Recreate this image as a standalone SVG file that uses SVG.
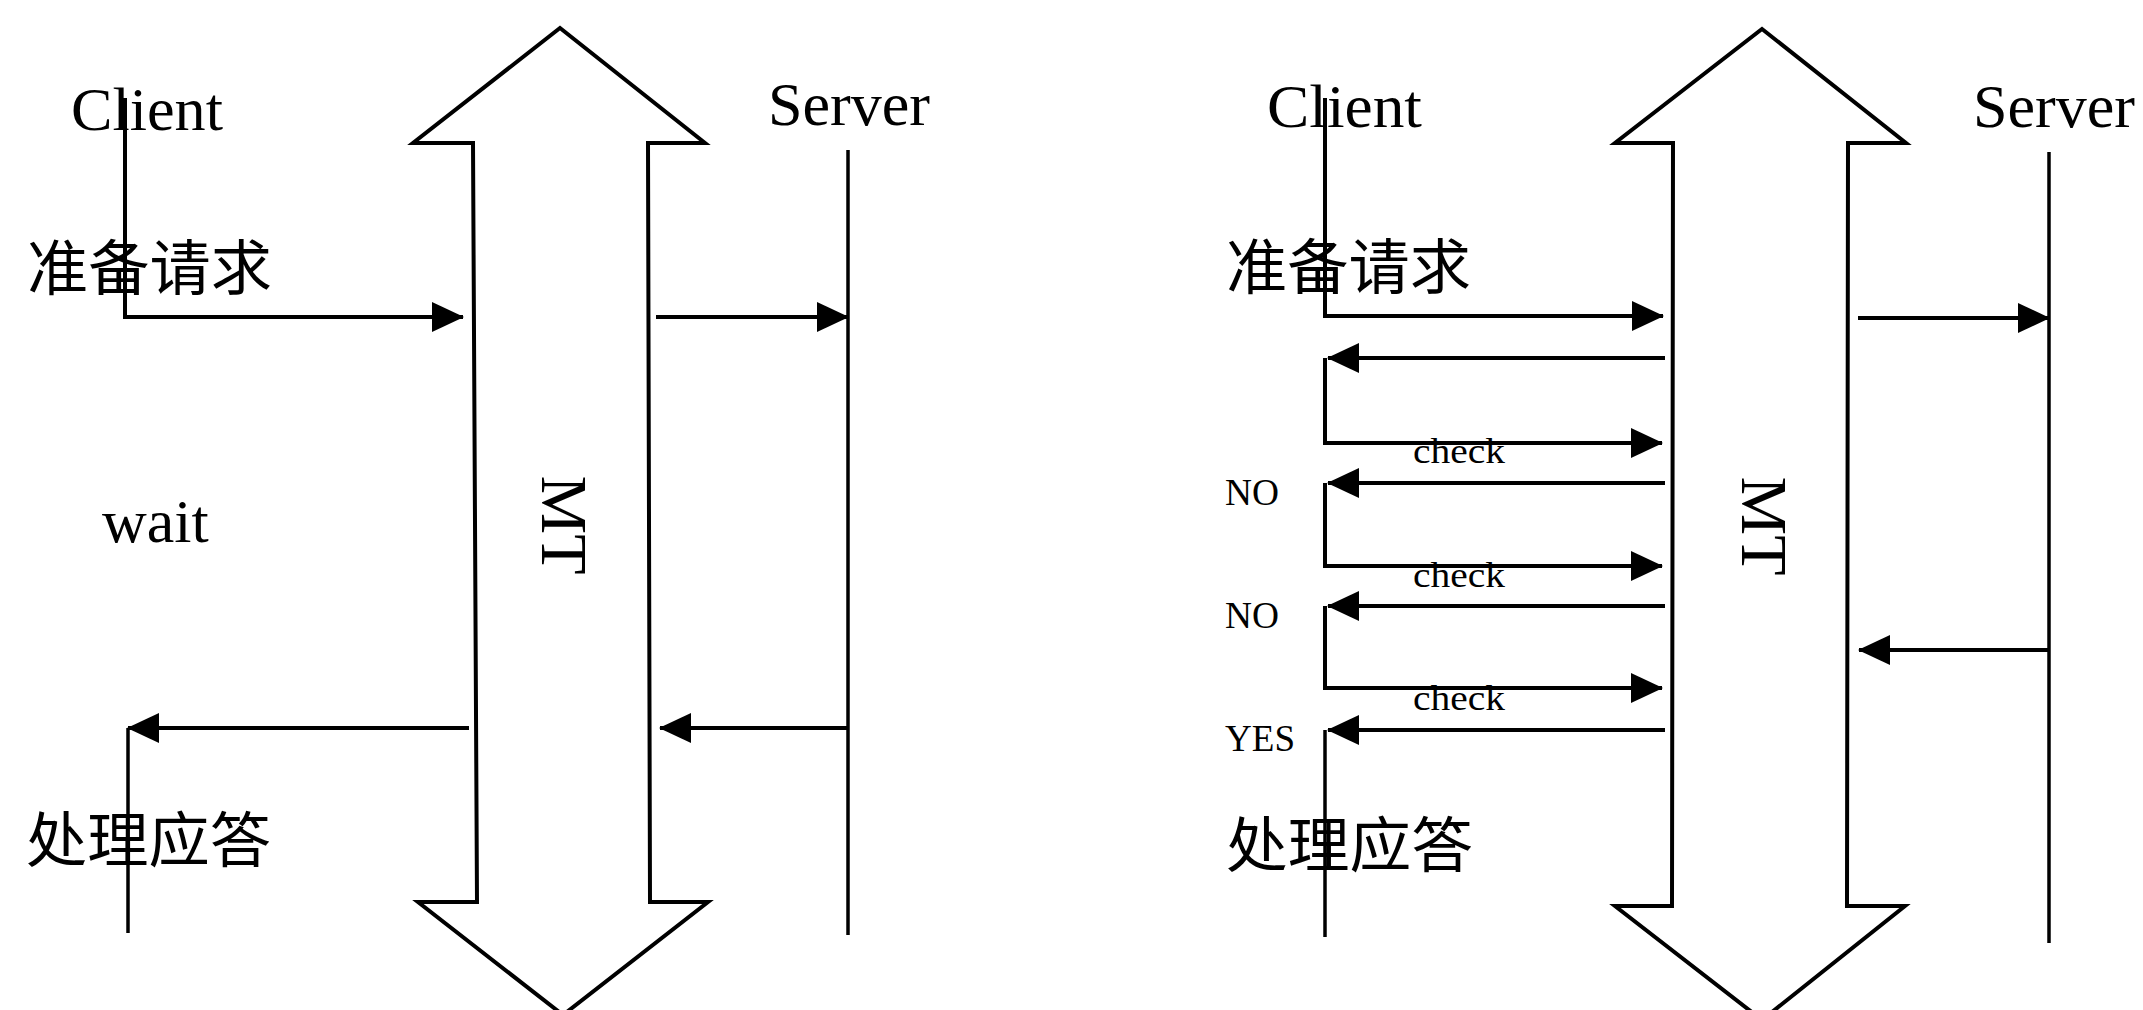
<svg xmlns="http://www.w3.org/2000/svg" width="2143" height="1010" viewBox="0 0 2143 1010">
<style>
.bg{fill:#fff}
.lat{font-family:"Liberation Serif","Times New Roman",serif;fill:#000}
.big{font-size:62px}
.sm{font-size:38px}
.chk{font-size:36px}
.cjk{font-family:"Noto Sans CJK SC","Noto Sans CJK JP",sans-serif;font-size:60px;fill:#000}
.mt{fill:#fff;stroke:#000;stroke-width:4;stroke-linejoin:miter}
.ln{fill:none;stroke:#000;stroke-width:4}
.life{fill:none;stroke:#000;stroke-width:3.5}
.arr{marker-end:url(#ah)}
</style>
<defs>
<marker id="ah" viewBox="0 0 32 30" refX="31" refY="15" markerWidth="32" markerHeight="30" markerUnits="userSpaceOnUse" orient="auto">
<path d="M0,0 L32,15 L0,30 Z" fill="#000"/>
</marker>
</defs>
<rect class="bg" x="0" y="0" width="2143" height="1010"/>

<!-- Left diagram -->
<g id="left-mt">
<polygon class="mt" points="560,28 705,143 648,143 650,902 708,902 563,1015 418,902 477,902 473,143 413,143"/>
<text class="lat" font-size="66" transform="translate(542,525) rotate(90)" text-anchor="middle">MT</text>
</g>
<g id="left-client">
<text class="lat big" x="71" y="130" textLength="152" lengthAdjust="spacingAndGlyphs">Client</text>
<text class="cjk" x="27" y="290" textLength="245" lengthAdjust="spacingAndGlyphs">准备请求</text>
<text class="lat big" x="102" y="542">wait</text>
<text class="cjk" x="26" y="862" textLength="245" lengthAdjust="spacingAndGlyphs">处理应答</text>
</g>
<g id="left-server">
<text class="lat big" x="768" y="125" textLength="162" lengthAdjust="spacingAndGlyphs">Server</text>
</g>

<!-- Right diagram -->
<g id="right-mt">
<polygon class="mt" points="1762,29 1906,143 1848,143 1847,906 1905,906 1762,1020 1615,906 1672,906 1673,143 1615,143"/>
<text class="lat" font-size="66" transform="translate(1742,526) rotate(90)" text-anchor="middle">MT</text>
</g>
<g id="right-client">
<text class="lat big" x="1267" y="127" textLength="155" lengthAdjust="spacingAndGlyphs">Client</text>
<text class="cjk" x="1226" y="289" textLength="245" lengthAdjust="spacingAndGlyphs">准备请求</text>
<text class="lat sm" x="1225" y="505" textLength="54" lengthAdjust="spacingAndGlyphs">NO</text>
<text class="lat sm" x="1225" y="628" textLength="54" lengthAdjust="spacingAndGlyphs">NO</text>
<text class="lat sm" x="1225" y="751" textLength="70" lengthAdjust="spacingAndGlyphs">YES</text>
<text class="cjk" x="1226" y="867" textLength="247" lengthAdjust="spacingAndGlyphs">处理应答</text>
</g>
<g id="right-server">
<text class="lat big" x="1973" y="127" textLength="162" lengthAdjust="spacingAndGlyphs">Server</text>
</g>
<g id="check-labels">
<text class="lat chk" x="1413" y="463" textLength="92" lengthAdjust="spacingAndGlyphs">check</text>
<text class="lat chk" x="1413" y="587" textLength="92" lengthAdjust="spacingAndGlyphs">check</text>
<text class="lat chk" x="1413" y="710" textLength="92" lengthAdjust="spacingAndGlyphs">check</text>
</g>

<g id="connectors">
<!-- left -->
<path class="ln arr" d="M125,98 V317 H463"/>
<path class="ln arr" d="M656,317 H848"/>
<path class="life" d="M848,150 V935"/>
<path class="ln arr" d="M469,728 H128"/>
<path class="life" d="M128,728 V933"/>
<path class="ln arr" d="M848,728 H660"/>
<!-- right -->
<path class="ln arr" d="M1325,98 V316 H1663"/>
<path class="ln arr" d="M1858,318 H2049"/>
<path class="life" d="M2049,152 V943"/>
<path class="ln arr" d="M1665,358 H1328"/>
<path class="ln arr" d="M1325,358 V443 H1662"/>
<path class="ln arr" d="M1665,483 H1328"/>
<path class="ln arr" d="M1325,483 V566 H1662"/>
<path class="ln arr" d="M1665,606 H1328"/>
<path class="ln arr" d="M1325,606 V688 H1662"/>
<path class="ln arr" d="M1665,730 H1328"/>
<path class="life" d="M1325,730 V937"/>
<path class="ln arr" d="M2049,650 H1859"/>
</g>
</svg>
